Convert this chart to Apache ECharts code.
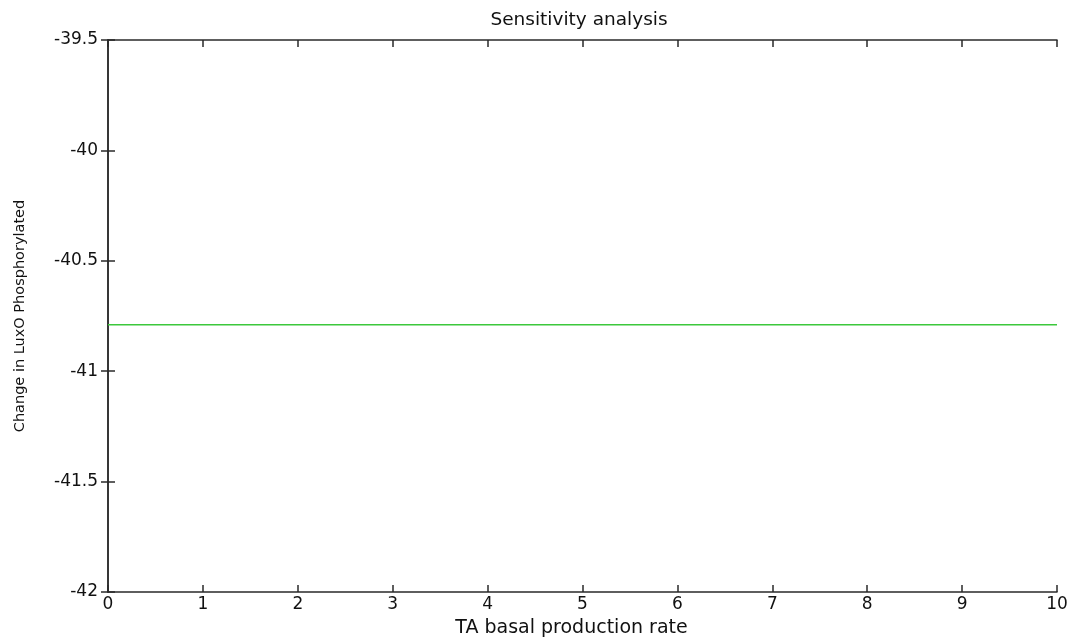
<!DOCTYPE html>
<html>
<head>
<meta charset="utf-8">
<script src="https://cdn.jsdelivr.net/npm/echarts@6/dist/echarts.min.js"></script>
<style>html,body{margin:0;padding:0;background:#fff;}#c{width:1073px;height:643px;}</style>
</head>
<body>
<div id="c"></div>
<script>
const xValues = [0, 1, 2, 3, 4, 5, 6, 7, 8, 9, 10];
const yValues = [-40.79, -40.79, -40.79, -40.79, -40.79, -40.79, -40.79, -40.79, -40.79, -40.79, -40.79];
const titleText = 'Sensitivity analysis';
const xName = 'TA basal production rate';
const yName = 'Change in LuxO Phosphorylated';

const chart = echarts.init(document.getElementById('c'));
const font = 'DejaVu Sans, sans-serif';
const axisLine = {show: true, lineStyle: {color: '#2a2a2a', width: 1.5}};
const tick = {show: true, inside: true, length: 7, lineStyle: {color: '#2a2a2a', width: 1.5}};
chart.setOption({
  animation: false,
  title: {text: titleText, left: 574, top: 6, textAlign: 'center',
    textStyle: {fontFamily: font, fontSize: 18.5, fontWeight: 'normal', color: '#111'}},
  grid: {left: 108, top: 40, right: 16, bottom: 50},
  xAxis: [{
    type: 'value', min: 0, max: 10, interval: 1,
    name: xName, nameLocation: 'middle', nameGap: 27,
    nameTextStyle: {fontFamily: font, fontSize: 19, color: '#111', padding: [0, 22, 0, 0]},
    axisLine, axisTick: tick, splitLine: {show: false},
    axisLabel: {fontFamily: font, fontSize: 17, color: '#111', margin: 4}
  }, {
    type: 'value', min: 0, max: 10, interval: 1, position: 'top',
    axisLine, axisTick: tick, splitLine: {show: false}, axisLabel: {show: false}
  }],
  yAxis: [{
    type: 'value', min: -42, max: -39.5, interval: 0.5,
    name: yName, nameLocation: 'middle', nameGap: 80, nameRotate: 90,
    nameTextStyle: {fontFamily: font, fontSize: 14.5, color: '#111'},
    axisLine, axisTick: tick, splitLine: {show: false},
    axisLabel: {fontFamily: font, fontSize: 17, color: '#111', margin: 10}
  }, {
    type: 'value', min: -42, max: -39.5, interval: 0.5, position: 'right',
    axisLine, axisTick: tick, splitLine: {show: false}, axisLabel: {show: false}
  }],
  series: [{
    type: 'line', showSymbol: false, symbol: 'none',
    data: xValues.map((x, i) => [x, yValues[i]]),
    lineStyle: {color: '#3cc83c', width: 1.5}
  }]
});
</script>
</body>
</html>
